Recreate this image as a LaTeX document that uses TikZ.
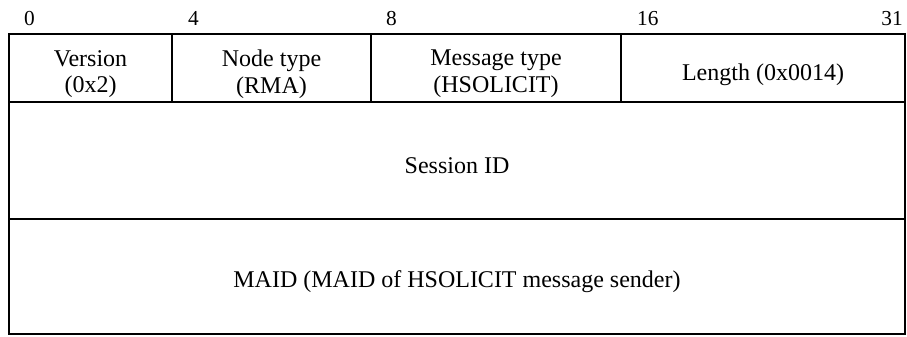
\documentclass[tikz,border=0pt]{standalone}
\usepackage{fontspec}
\setmainfont{Liberation Serif}
\usetikzlibrary{positioning}

\begin{document}
\begin{tikzpicture}[x=0.75pt,y=-0.75pt,line width=1.8pt,
  field/.style={align=center,inner sep=0pt,font=\fontsize{18}{20}\selectfont},
  bitno/.style={font=\fontsize{16}{18}\selectfont,inner sep=0pt}]
  \useasboundingbox (0,0) rectangle (907,336);
  % frame and rows
  \draw (9,34) rectangle (905,334);
  \draw (9,102) -- (905,102);
  \draw (9,219) -- (905,219);
  \draw (172,34) -- (172,102);
  \draw (371,34) -- (371,102);
  \draw (621,34) -- (621,102);
  % bit numbers
  \node[bitno,anchor=base west] (b0) at (23,25) {0};
  \node[bitno,anchor=base west] (b4) at (187,25) {4};
  \node[bitno,anchor=base west] (b8) at (385,25) {8};
  \node[bitno,anchor=base west] (b16) at (636,25) {16};
  \node[bitno,anchor=base east] (b31) at (904,25) {31};
  % header fields
  \node[field] (version) at (90.5,74) {Version\\(0x2)};
  \node[field] (nodetype) at (271.5,74) {Node type\\(RMA)};
  \node[field] (msgtype) at (496,74) {Message type\\(HSOLICIT)};
  \node[field] (length) at (763,75) {Length (0x0014)};
  % session and sender
  \node[field] (session) at (457,166) {Session ID};
  \node[field] (maid) at (457,282) {MAID (MAID of HSOLICIT message sender)};
\end{tikzpicture}
\end{document}
